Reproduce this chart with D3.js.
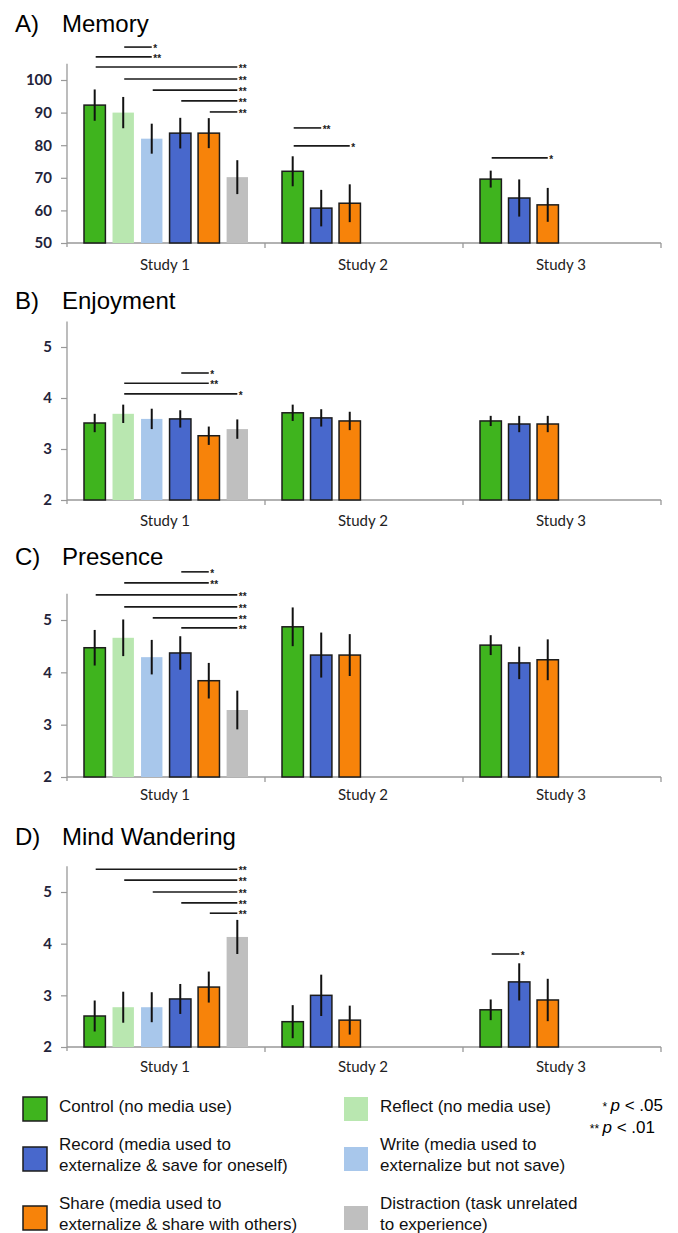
<!DOCTYPE html>
<html>
<head>
  <meta charset="utf-8">
  <title>Memory, Enjoyment, Presence, Mind Wandering</title>
  <style>
    body { margin: 0; background: #fff; }
  </style>
</head>
<body>
  <svg id="chart"></svg>

  <script src="https://d3js.org/d3.v7.min.js"></script>
  <script>
    // Data
    const studies = ["Study 1", "Study 2", "Study 3"];
    const studyConds = [
      ["Control", "Reflect", "Write", "Record", "Share", "Distraction"],
      ["Control", "Record", "Share"],
      ["Control", "Record", "Share"]
    ];

    const memoryMean = [[92.3, 90.0, 82.0, 83.7, 83.7, 70.2], [72.0, 60.7, 62.2], [69.6, 63.8, 61.7]];
    const memoryErr = [[4.8, 4.8, 4.6, 4.7, 4.6, 5.2], [4.6, 5.6, 5.8], [2.6, 5.7, 5.2]];
    // [study, from bar, to bar, level, stars]
    const memorySig = [
      [0, 1, 2, 110.1, "*"], [0, 0, 2, 107.1, "**"], [0, 0, 5, 104.0, "**"], [0, 1, 5, 100.3, "**"],
      [0, 2, 5, 96.9, "**"], [0, 3, 5, 93.6, "**"], [0, 4, 5, 90.2, "**"],
      [1, 0, 1, 85.3, "**"], [1, 0, 2, 79.8, "*"], [2, 0, 2, 76.1, "*"]
    ];

    const enjoyMean = [[3.51, 3.69, 3.59, 3.59, 3.26, 3.39], [3.71, 3.61, 3.55], [3.55, 3.49, 3.49]];
    const enjoyErr = [[0.18, 0.18, 0.2, 0.17, 0.18, 0.19], [0.16, 0.17, 0.18], [0.1, 0.16, 0.16]];
    const enjoySig = [[0, 3, 4, 4.49, "*"], [0, 1, 4, 4.29, "**"], [0, 1, 5, 4.08, "*"]];

    const presenceMean = [[4.47, 4.66, 4.29, 4.37, 3.84, 3.28], [4.87, 4.33, 4.33], [4.52, 4.18, 4.24]];
    const presenceErr = [[0.34, 0.35, 0.33, 0.32, 0.34, 0.37], [0.37, 0.43, 0.4], [0.19, 0.31, 0.39]];
    const presenceSig = [
      [0, 3, 4, 5.92, "*"], [0, 1, 4, 5.71, "**"], [0, 0, 5, 5.48, "**"],
      [0, 1, 5, 5.25, "**"], [0, 2, 5, 5.04, "**"], [0, 3, 5, 4.85, "**"]
    ];

    const mindMean = [[2.6, 2.77, 2.77, 2.93, 3.16, 4.13], [2.49, 3.0, 2.52], [2.72, 3.26, 2.91]];
    const mindErr = [[0.3, 0.3, 0.29, 0.29, 0.3, 0.33], [0.32, 0.4, 0.28], [0.2, 0.36, 0.41]];
    const mindSig = [
      [0, 0, 5, 5.44, "**"], [0, 1, 5, 5.23, "**"], [0, 2, 5, 5.0, "**"],
      [0, 3, 5, 4.79, "**"], [0, 4, 5, 4.59, "**"], [2, 0, 1, 3.8, "*"]
    ];

    const legendNames = ["Control", "Reflect", "Record", "Write", "Share", "Distraction"];
    const legendLines = [
      ["Control (no media use)"],
      ["Reflect (no media use)"],
      ["Record (media used to", "externalize & save for oneself)"],
      ["Write (media used to", "externalize but not save)"],
      ["Share (media used to", "externalize & share with others)"],
      ["Distraction (task unrelated", "to experience)"]
    ];

    // Colours
    const color = d3.scaleOrdinal()
      .domain(["Control", "Reflect", "Write", "Record", "Share", "Distraction"])
      .range(["#3fb41e", "#b9e7b0", "#a8c7eb", "#4868cc", "#f7830a", "#bfbfbf"]);
    const outlined = new Set(["Control", "Record", "Share"]);

    const width = 678, height = 1233;
    const svg = d3.select("#chart").attr("width", width).attr("height", height);
    svg.append("rect").attr("width", width).attr("height", height).attr("fill", "#fff");

    const axisX0 = 67, axisX1 = 661;
    const xGroup = d3.scaleBand().domain(studies).range([axisX0, axisX1]).padding(0);
    const xSlot = d3.scaleBand().domain(d3.range(6)).range([17, 181]).paddingInner(0.25);

    const panels = [
      { letter: "A)", name: "Memory", titleY: 32, dom: [50, 100], rng: [243, 80], top: 105,
        ticks: d3.range(50, 101, 10), mean: memoryMean, err: memoryErr, sig: memorySig, lab: 27 },
      { letter: "B)", name: "Enjoyment", titleY: 309, dom: [2, 5], rng: [500, 347], top: 5.5,
        ticks: [2, 3, 4, 5], mean: enjoyMean, err: enjoyErr, sig: enjoySig, lab: 26 },
      { letter: "C)", name: "Presence", titleY: 565, dom: [2, 5], rng: [777, 620], top: 5.5,
        ticks: [2, 3, 4, 5], mean: presenceMean, err: presenceErr, sig: presenceSig, lab: 23 },
      { letter: "D)", name: "Mind Wandering", titleY: 845, dom: [2, 5], rng: [1047, 892], top: 5.5,
        ticks: [2, 3, 4, 5], mean: mindMean, err: mindErr, sig: mindSig, lab: 25 }
    ];

    panels.forEach(p => {
      const g = svg.append("g");
      const y = d3.scaleLinear().domain(p.dom).range(p.rng);
      const base = y(p.dom[0]);

      // Title
      g.append("text").attr("x", 15).attr("y", p.titleY)
        .style("font-family", "Liberation Sans, Arial, sans-serif").style("font-size", "24px")
        .text(p.letter);
      g.append("text").attr("x", 62).attr("y", p.titleY)
        .style("font-family", "Liberation Sans, Arial, sans-serif").style("font-size", "24px")
        .text(p.name);

      // Y axis
      const ax = g.append("g").attr("transform", `translate(${axisX0},0)`)
        .call(d3.axisLeft(y).tickValues(p.ticks).tickFormat(d3.format("d")).tickSize(6).tickPadding(9));
      ax.select(".domain").remove();
      ax.selectAll(".tick line").attr("stroke", "#999").attr("stroke-width", 1.2);
      ax.selectAll(".tick text")
        .style("font-family", "Lato, sans-serif").style("font-weight", "700")
        .style("font-size", "15px").attr("fill", "#23233a");
      g.append("line").attr("x1", axisX0).attr("x2", axisX0)
        .attr("y1", base + 4).attr("y2", y(p.top))
        .attr("stroke", "#999").attr("stroke-width", 1.3);

      // X axis
      g.append("line").attr("x1", axisX0).attr("x2", axisX1).attr("y1", base).attr("y2", base)
        .attr("stroke", "#999").attr("stroke-width", 1.3);
      g.selectAll(".xt").data(studies.slice(1).concat(["end"])).enter().append("line")
        .attr("x1", (d, i) => axisX0 + xGroup.bandwidth() * (i + 1))
        .attr("x2", (d, i) => axisX0 + xGroup.bandwidth() * (i + 1))
        .attr("y1", base).attr("y2", base + 5)
        .attr("stroke", "#999").attr("stroke-width", 1.3);

      g.selectAll(".study").data(studies).enter().append("text")
        .attr("x", d => xGroup(d) + xGroup.bandwidth() / 2 - 1)
        .attr("y", base + p.lab)
        .attr("text-anchor", "middle")
        .style("font-family", "Lato, sans-serif").style("font-size", "15px").style("fill", "#222")
        .text(d => d);

      // Bars
      const bars = [];
      studies.forEach((s, si) => {
        studyConds[si].forEach((c, ci) => {
          bars.push({ study: s, cond: c, slot: ci, mean: p.mean[si][ci], err: p.err[si][ci] });
        });
      });
      const cx = (s, slot) => xGroup(s) + xSlot(slot) + xSlot.bandwidth() / 2;

      g.selectAll(".bar").data(bars).enter().append("rect")
        .attr("x", d => xGroup(d.study) + xSlot(d.slot))
        .attr("width", xSlot.bandwidth())
        .attr("y", d => y(d.mean))
        .attr("height", d => base - y(d.mean))
        .attr("fill", d => color(d.cond))
        .attr("stroke", d => outlined.has(d.cond) ? "#1c1c1c" : "none")
        .attr("stroke-width", 1.5);

      g.selectAll(".err").data(bars).enter().append("line")
        .attr("x1", d => cx(d.study, d.slot)).attr("x2", d => cx(d.study, d.slot))
        .attr("y1", d => y(d.mean + d.err)).attr("y2", d => y(d.mean - d.err))
        .attr("stroke", "#111").attr("stroke-width", 2);

      // Significance lines
      const sg = g.selectAll(".sig").data(p.sig).enter().append("g");
      sg.append("line")
        .attr("x1", d => cx(studies[d[0]], d[1]) + 1)
        .attr("x2", d => cx(studies[d[0]], d[2]))
        .attr("y1", d => y(d[3])).attr("y2", d => y(d[3]))
        .attr("stroke", "#1a1a1a").attr("stroke-width", 1.6);
      sg.append("text")
        .attr("x", d => cx(studies[d[0]], d[2]) + 1.5)
        .attr("y", d => y(d[3]) + 5)
        .style("font-family", "Liberation Sans, Arial, sans-serif").style("font-size", "10px").style("font-weight", "700")
        .style("fill", "#1a1a1a")
        .text(d => d[4]);
    });

    // Legend
    const leg = svg.append("g").style("font-family", "Liberation Sans, Arial, sans-serif").style("font-size", "17px");
    const legX = d3.scaleOrdinal().domain([0, 1]).range([23, 344]);
    const rowTop = [1097, 1147, 1206];
    legendNames.forEach((n, i) => {
      const col = i % 2, row = Math.floor(i / 2);
      const x0 = legX(col);
      leg.append("rect").attr("x", x0).attr("y", rowTop[row]).attr("width", 24).attr("height", 24)
        .attr("fill", color(n))
        .attr("stroke", outlined.has(n) ? "#1c1c1c" : "none").attr("stroke-width", 1.5);
      const lines = legendLines[i];
      const t = leg.append("text").attr("x", x0 + 36).attr("fill", "#111");
      lines.forEach((ln, li) => {
        const yy = lines.length === 1 ? rowTop[row] + 15 : rowTop[row] + 3 + li * 21;
        t.append("tspan").attr("x", x0 + 36).attr("y", yy).text(ln);
      });
    });

    const p1 = leg.append("text").attr("x", 663).attr("y", 1111).attr("text-anchor", "end");
    p1.append("tspan").text("* ").style("font-size", "12px");
    p1.append("tspan").text("p").style("font-style", "italic");
    p1.append("tspan").text(" < .05");
    const p2 = leg.append("text").attr("x", 655).attr("y", 1133).attr("text-anchor", "end");
    p2.append("tspan").text("** ").style("font-size", "12px");
    p2.append("tspan").text("p").style("font-style", "italic");
    p2.append("tspan").text(" < .01");
  </script>
</body>
</html>
